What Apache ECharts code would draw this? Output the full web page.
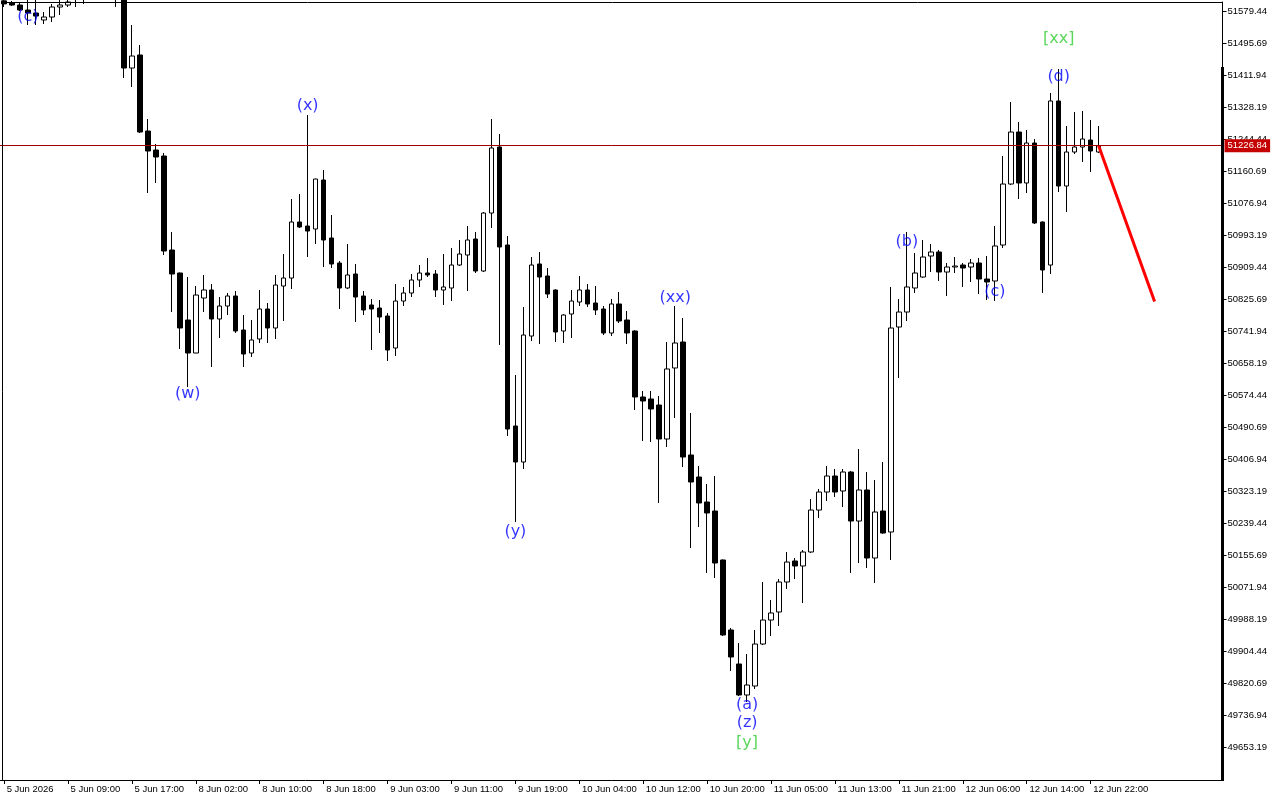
<!DOCTYPE html>
<html><head><meta charset="utf-8">
<script src="https://cdn.jsdelivr.net/npm/echarts@6/dist/echarts.min.js"></script>
<style>html,body{margin:0;padding:0;background:#fff}#c{width:1280px;height:800px}</style>
</head><body><div id="c"></div>
<script>
// hourly candles [open, close, low, high], index 0 = 5 Jun 01:00
const ohlc = [
[51606,51598,51590,51620],[51600.3,51595.1,51592.5,51605.6],[51595.1,51582.0,51579.4,51600.3],[51582.0,51574.2,51542.8,51615],
[51574.2,51566.3,51542.8,51612],[51555.9,51563.7,51545.4,51576.8],[51563.7,51589.9,51550.6,51597.7],[51589.9,51595.1,51569.0,51612],
[51595.1,51603.0,51589.9,51620],[51610,51625,51589.9,51640],[51625,51640,51597.7,51660],[51640,51650,51615,51670],
[51650,51635,51610,51665],[51635,51625,51608,51650],[51630,51615,51590,51650],[51612,51430.2,51404.1,51625],
[51430.2,51461.6,51380.5,51542.8],[51464.3,51262.7,51260,51490.4],[51265.3,51213.0,51103.1,51296.8],[51215.6,51197.3,51129.3,51231.3],
[51199.9,50951.3,50940.8,51207.8],[50953.9,50891.1,50791.6,51001.0],[50893.7,50749.8,50694.8,50895],[50770.7,50684.3,50595.3,50883.2],
[50684.3,50836.1,50684,50859.7],[50828.3,50849.2,50791.6,50888.5],[50849.2,50773.3,50647.7,50864.9],[50773.3,50807.3,50723.6,50830.9],
[50807.3,50833.5,50783.8,50841.4],[50833.5,50741.9,50736.7,50846.6],[50744.5,50681.7,50647.7,50783.8],[50684.3,50718.4,50673.9,50770.7],
[50721.0,50799.5,50710.5,50849.2],[50799.5,50749.8,50710.5,50815.2],[50749.8,50862.3,50721.0,50888.5],[50859.7,50880.6,50768.1,50943.4],
[50880.6,51027.2,50851.8,51087.4],[51027.2,51014.1,51011.5,51100.5],[51016.7,51003.6,50935.6,51307.2],[51008.9,51139.7,50969.6,51140.5],
[51137.1,50980.1,50909.4,51163.3],[50985.3,50917.3,50906.8,51045.5],[50919.9,50854.5,50799.5,50925.1],[50854.5,50888.5,50851.8,50969.6],
[50891.1,50830.9,50765.5,50917.3],[50833.5,50796.9,50783.8,50846.6],[50810.0,50799.5,50692.2,50825.7],[50802.1,50778.5,50736.7,50823.0],
[50781.2,50692.2,50663.4,50789.0],[50697.4,50820.4,50676.5,50864.9],[50820.4,50841.4,50807.3,50857.1],[50841.4,50875.4,50830.9,50891.1],
[50875.4,50893.7,50857.1,50914.6],[50893.7,50888.5,50883.2,50933.0],[50891.1,50849.2,50830.9,50901.6],[50849.2,50857.1,50810.0,50943.4],
[50854.5,50914.6,50820.4,50959.1],[50914.6,50943.4,50912.0,50980.1],[50940.8,50980.1,50846.6,51016.7],[50982.7,50898.9,50893.7,51001.0],
[50898.9,51050.7,50896.3,51053.4],[51050.7,51220.9,51011.5,51296.8],[51223.5,50961.8,50705.3,51257.5],[50967.0,50485.4,50467.1,50990.5],
[50493.3,50399.1,50242.0,50626.8],[50399.1,50731.4,50380.7,50804.7],[50728.8,50914.6,50715.7,50935.6],[50917.3,50883.2,50707.9,50948.7],
[50885.9,50838.7,50828.3,50906.8],[50849.2,50739.3,50713.1,50851],[50741.9,50783.8,50710.5,50786.4],[50786.4,50820.4,50723.6,50849.2],
[50817.8,50849.2,50807.3,50885.9],[50849.2,50812.6,50804.7,50864.9],[50815.2,50796.9,50783.8,50859.7],[50799.5,50736.7,50731.4,50807.3],
[50736.7,50812.6,50728.8,50825.7],[50812.6,50768.1,50762.8,50844.0],[50770.7,50736.7,50707.9,50794.3],[50741.9,50569.2,50535.1,50744],
[50569.2,50558.7,50454.0,50584.9],[50564.0,50537.8,50451.4,50584.9],[50548.2,50459.3,50291.8,50571.8],[50459.3,50642.5,50438.3,50713.1],
[50645.1,50710.5,50514.2,50807.3],[50713.1,50412.1,50386.0,50775.9],[50417.4,50346.7,50174.0,50527.3],[50359.8,50291.8,50228.9,50388.6],
[50294.4,50265.6,50108.5,50341.5],[50270.8,50134.7,50095.5,50362.4],[50142.6,49946.3,49944,50144],[49959.4,49888.7,49852.1,49964.6],
[49870.4,49789.3,49786.6,49925.3],[49789.3,49815.4,49770.9,49896.6],[49812.8,49922.7,49805.0,49959.4],[49922.7,49985.5,49920,50085.0],
[49985.5,50003.9,49943.7,50037.9],[50006.5,50085.0,49969.8,50092.8],[50085.0,50137.3,50066.7,50163.5],[50140.0,50126.9,50092.8,50147.8],
[50126.9,50163.5,50030.0,50168.7],[50163.5,50273.4,50161,50302.2],[50273.4,50320.5,50252.5,50328.4],[50320.5,50362.4,50297.0,50388.6],
[50362.4,50320.5,50307.5,50380.7],[50323.2,50372.9,50281.3,50380.7],[50372.9,50244.6,50108.5,50375.5],[50244.6,50325.8,50134.7,50433.1],
[50325.8,50147.8,50121.6,50372.9],[50147.8,50268.2,50082.4,50351.9],[50270.8,50213.2,50211,50399.1],[50215.9,50749.8,50142.6,50857.1],
[50752.4,50791.6,50618.9,50825.7],[50791.6,50857.1,50768.1,51001.0],[50854.5,50893.7,50841.4,50946.1],[50883.2,50935.6,50881,50980.1],
[50938.2,50948.7,50896.3,50969.6],[50948.7,50896.3,50872.8,50953.9],[50896.3,50909.4,50833.5,50919.9],[50909.4,50912.0,50893.7,50935.6],
[50914.6,50906.8,50857.1,50919.9],[50909.4,50919.9,50870.2,50930.4],[50919.9,50878.0,50838.7,50933.0],[50878.0,50870.2,50823.0,50938.2],
[50872.8,50964.4,50820.4,51016.7],[50967.0,51126.6,50959.1,51199.9],[51126.6,51262.7,51124,51341.2],[51262.7,51129.3,51087.4,51288.9],
[51129.3,51233.9,51103.1,51268.0],[51233.9,51024.6,51022,51244.4],[51027.2,50901.6,50841.4,51029],[50914.6,51343.9,50891.1,51364.8],
[51343.9,51121.4,51105.7,51427.6],[51121.4,51210.4,51053.4,51278.4],[51210.4,51223.5,51205.2,51315.1],[51223.5,51244.4,51184.2,51317.7],
[51241.8,51213.0,51158.0,51294.1],[51210.4,51226.84,51207.8,51278.4]
];
const xTickLabels = ["5 Jun 2026","5 Jun 09:00","5 Jun 17:00","8 Jun 02:00","8 Jun 10:00","8 Jun 18:00","9 Jun 03:00","9 Jun 11:00","9 Jun 19:00","10 Jun 04:00","10 Jun 12:00","10 Jun 20:00","11 Jun 05:00","11 Jun 13:00","11 Jun 21:00","12 Jun 06:00","12 Jun 14:00","12 Jun 22:00"];
const yTickValues = [49653.19,49736.94,49820.69,49904.44,49988.19,50071.94,50155.69,50239.44,50323.19,50406.94,50490.69,50574.44,50658.19,50741.94,50825.69,50909.44,50993.19,51076.94,51160.69,51244.44,51328.19,51411.94,51495.69,51579.44];
const lastPrice = 51226.84;
const forecastPath = [[137, 51226.84], [144, 50819]];
// [bar index, price, text, colour key]
const waveLabels = [
 [3, 51563.7, "(c)", "b"], [23, 50577.0, "(w)", "b"], [38, 51330.8, "(x)", "b"], [64, 50216.6, "(y)", "b"],
 [84, 50827.5, "(xx)", "b"], [93, 49763.1, "(a)", "b"], [93, 49716.0, "(z)", "b"], [93, 49663.6, "[y]", "g"],
 [113, 50975.6, "(b)", "b"], [124, 50844.8, "(c)", "b"], [132, 51407.5, "(d)", "b"], [132, 51506.1, "[xx]", "g"]
];
const tradingDays = [5, 8, 9, 10, 11, 12, 15];
const barTimes = [];
tradingDays.forEach(d => { for (let h = 1; h <= 23; h++) barTimes.push(d + ' Jun ' + String(h).padStart(2, '0') + ':00'); });
const categories = barTimes.slice(0, 153);

const BLUE = '#0000ff', GREEN = '#32cd32';
const chart = echarts.init(document.getElementById('c'), null, {renderer: 'canvas'});
const tickShown = (idx) => idx % 8 === 0 && idx / 8 < xTickLabels.length;
chart.setOption({
  animation: false,
  backgroundColor: '#fff',
  grid: {left: -1.5, top: 2, width: 1224, bottom: 20, containLabel: false},
  xAxis: {
    type: 'category', data: categories, boundaryGap: true,
    axisLine: {show: true, lineStyle: {color: '#000', width: 1}},
    axisTick: {show: true, alignWithLabel: true, interval: tickShown, length: 4, lineStyle: {color: '#000'}},
    axisLabel: {interval: tickShown, align: 'left', margin: 4, color: '#000', fontFamily: 'Liberation Sans', fontSize: 9.5,
      formatter: (v, idx) => tickShown(idx) ? ' ' + xTickLabels[idx / 8] : ''},
    splitLine: {show: false}
  },
  yAxis: {
    type: 'value', position: 'right', min: 49566.8, max: 51603.0, scale: true,
    splitLine: {show: false},
    axisLine: {show: true, lineStyle: {color: '#000', width: 1}},
    axisTick: {show: true, length: 4, customValues: yTickValues, lineStyle: {color: '#000'}},
    axisLabel: {customValues: yTickValues, formatter: v => Number(v).toFixed(2), margin: 5, color: '#000', fontFamily: 'Liberation Sans', fontSize: 9.5}
  },
  series: [
    {
      type: 'candlestick', data: ohlc, barWidth: 5, clip: true,
      itemStyle: {color: '#fff', color0: '#000', borderColor: '#000', borderColor0: '#000', borderWidth: 1},
      markLine: {
        symbol: 'none', silent: true, animation: false,
        data: [{yAxis: lastPrice}],
        lineStyle: {color: '#a00000', width: 1, type: 'solid'},
        label: {show: true, position: 'end', formatter: lastPrice.toFixed(2), color: '#fff', backgroundColor: '#c40000',
          padding: [2, 3, 1, 3], fontFamily: 'Liberation Sans', fontSize: 9.5, distance: 2}
      }
    },
    {
      type: 'line', data: forecastPath, symbol: 'none', clip: false, z: 4,
      lineStyle: {color: '#ff0000', width: 3}
    },
    {
      type: 'scatter', symbolSize: 0.1, clip: false, z: 5,
      itemStyle: {color: 'transparent'},
      data: waveLabels.map(w => ({value: [w[0], w[1]], label: {color: w[3] === 'g' ? GREEN : BLUE}})),
      label: {show: true, position: 'inside', fontFamily: 'DejaVu Sans', fontSize: 16,
        formatter: p => waveLabels[p.dataIndex][2]}
    }
  ],
  graphic: [
    {type: 'polyline', z: 100, silent: true, shape: {points: [[2.5, 780], [2.5, 2.5], [1222.5, 2.5]]}, style: {stroke: '#000', lineWidth: 1, fill: null}},
    {type: 'rect', z: 100, silent: true, shape: {x: 1221, y: 67, width: 3, height: 714}, style: {fill: '#000'}}
  ]
});
</script></body></html>
